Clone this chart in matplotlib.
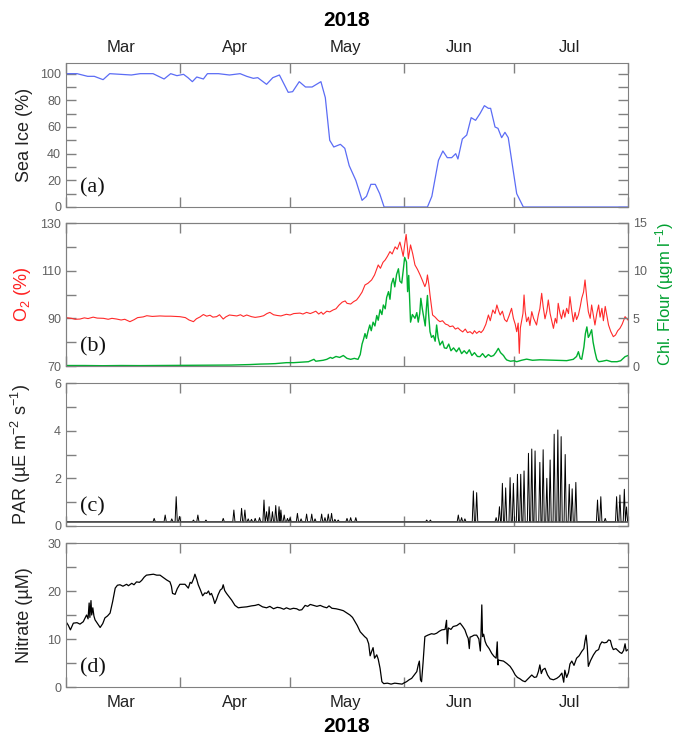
import numpy as np
import matplotlib
matplotlib.use("Agg")
import matplotlib.pyplot as plt
import matplotlib.dates as mdates
from matplotlib.ticker import MultipleLocator, FixedLocator

plt.rcParams["font.family"] = ["Liberation Sans", "DejaVu Sans"]
plt.rcParams["mathtext.fontset"] = "custom"
plt.rcParams["mathtext.rm"] = "Liberation Sans"
plt.rcParams["mathtext.default"] = "regular"

# =========================
# Data (days since 1 Mar 2018)
# =========================
ice_day = [0, 3.0, 5.9, 7.7, 10.1, 11.9, 17.8, 20.2, 23.7, 26.7, 28.5, 30.2, 32.0, 33.2,
           34.4, 35.6, 37.4, 38.5, 41.5, 44.5, 47.4, 49.2, 51.0, 52.2, 54.6, 56.3, 58.1,
           60.5, 61.7, 63.5, 65.2, 67.0, 69.4, 70.6, 71.8, 72.9, 74.7, 75.9, 77.1, 78.9,
           80.6, 81.8, 83.0, 84.2, 85.4, 86.6, 98.4, 99.6, 101.4, 102.6, 103.8, 105.0,
           106.1, 106.7, 107.9, 109.1, 110.3, 111.5, 112.7, 113.9, 115.0, 115.6, 116.8,
           117.6, 118.6, 119.5, 120.4, 121.6, 122.7, 124.5, 153]
ice_pct = [100, 100, 98, 98, 95.5, 100, 99, 100, 100, 96, 100, 98.5, 99.5, 97,
           94, 97.5, 96, 100, 100, 99, 100, 98, 96.5, 97, 92, 97, 99,
           86, 86.5, 94, 90, 90, 94, 82, 50, 45, 47, 44, 31, 20,
           5, 8, 17, 17, 10, 0, 0, 8, 35, 42, 37, 37,
           40, 36, 51, 54, 67, 65, 70, 76, 74, 74, 60,
           59, 52, 56, 52, 30, 10, 0, 0]

o2_day = [0, 1.5, 2.5, 3.8, 5, 6, 7.4, 8.5, 10.2, 11.5, 12.5, 13.8, 15, 16, 17.4, 18.5,
          19.5, 21, 22, 23.5, 25.6, 27, 28.5, 30, 31, 32.5, 33.5, 34.7, 35.5, 36.5, 37.4,
          38.3, 39.2, 40, 41, 41.8, 42.8, 43.5, 44.5, 45.5, 46.5, 47.5, 48.3, 49.2, 50.5,
          51.5, 52.8, 53.8, 54.7, 55.5, 56.5, 57.5, 58.5, 60, 61, 62, 63.7, 64.5, 65.5,
          66.5, 67.3, 68, 68.8, 69.5, 70, 71, 71.8, 72.7, 73.5, 74.3, 75.2, 76, 76.5,
          77.5, 78.3, 79.1, 79.8, 80.6, 81.4, 82.2, 83.2, 84.0, 85, 85.6, 86.3, 86.9,
          87.5, 88.2, 88.8, 89.6, 90.2, 90.9, 91.3, 91.8, 92.2, 92.6, 93.0, 93.2, 93.8,
          94.4, 95, 95.7, 96.4, 97, 97.7, 98.1, 98.4, 98.8, 99.1, 99.5, 99.8, 100.5,
          101.2, 101.8, 102.5, 103.3, 104, 104.5, 105.3, 106, 106.7, 107.3, 108, 108.7,
          109.3, 110, 110.7, 111.2, 111.8, 112.5, 113, 113.6, 114.3, 115, 115.5, 116.2,
          116.8, 117.3, 117.8, 118.2, 118.8, 119.4, 120, 120.6, 121.3, 121.8, 122.3,
          122.7, 123.1, 123.4, 123.7, 124, 124.4, 124.7, 125.0, 125.4, 125.9, 126.3,
          126.8, 127.3, 128.1, 128.6, 129.0, 129.5, 129.9, 130.4, 130.9, 131.3, 131.8,
          132.3, 132.7, 133.2, 133.6, 134, 134.5, 134.9, 135.4, 135.8, 136.3, 136.8,
          137.2, 137.7, 138.1, 138.6, 139, 139.5, 140, 140.4, 140.9, 141.3, 141.8, 142.2,
          142.7, 143.1, 143.6, 144, 144.5, 145, 145.4, 145.9, 146.3, 146.8, 147.2, 147.7,
          148.3, 149, 149.6, 150.2, 150.8, 151.4, 152.2, 153]
o2_pct = [90.3, 90.0, 89.6, 89.7, 90.2, 89.9, 90.5, 90.1, 90.0, 89.6, 90.0, 89.7, 89.3, 89.6, 88.6, 89.4,
          90.3, 90.6, 91.1, 90.8, 91.0, 90.9, 90.9, 90.8, 90.7, 90.3, 89.3, 88.6, 89.8, 90.6, 91.6,
          90.9, 91.3, 90.5, 90.7, 91.5, 89.7, 90.6, 91.4, 91.2, 91.0, 91.5, 90.8, 91.4, 90.7,
          90.4, 90.7, 91.1, 92.0, 92.5, 91.5, 91.2, 91.0, 91.7, 91.4, 92.0, 92.2, 91.8, 92.5,
          92.0, 92.5, 93.0, 91.8, 92.6, 91.7, 93.0, 92.7, 93.5, 94.0, 95.5, 96.8, 97.3, 96.3,
          96.0, 97.0, 97.7, 99.1, 101.0, 104.0, 104.7, 106.1, 108.2, 112.4, 111.0, 113.5, 114.5,
          116.0, 118.0, 117.0, 120.0, 119.0, 122.0, 119.5, 116.0, 121.0, 125.2, 119.0, 115.0, 120.8,
          117.0, 112.4, 110.5, 108.2, 106.0, 103.3, 105.0, 108.2, 104.0, 99.8, 95.0, 91.4, 90.5,
          89.3, 88.6, 89.0, 87.6, 87.2, 86.5, 86.8, 85.5, 86.0, 85.1, 84.3, 85.5,
          84.0, 84.4, 83.5, 84.8, 83.7, 84.6, 84.0, 85.1, 87.5, 91.4, 89.0, 93.5,
          92.0, 95.6, 93.0, 91.4, 93.0, 89.5, 88.6, 91.0, 94.2, 90.0, 87.5,
          84.4, 88.0, 75.3, 86.0, 88.6, 92.0, 99.8, 93.0, 88.6, 90.5, 87.0,
          92.8, 90.0, 87.2, 91.5, 94.0, 100.5, 95.0, 89.8, 93.0, 97.7, 92.0,
          88.5, 85.8, 90.0, 88.0, 96.3, 92.0, 89.8, 93.5, 90.5, 94.2, 92.0,
          99.1, 93.0, 88.6, 92.5, 89.5, 91.4, 95.0, 98.4, 101.0, 106.1, 98.0, 92.8,
          90.0, 95.6, 91.0, 87.2, 92.0, 95.6, 90.5, 94.2, 89.0, 95.0, 91.5, 87.2,
          84.5, 82.3, 83.0, 84.8, 85.8, 87.5, 90.7, 89.3]

chl_day = [0, 5, 10, 15, 20, 25, 30, 35, 40, 45, 50, 52.8, 55, 57, 60, 62, 64, 66, 67.5, 68,
           70, 71, 72, 72.5, 73.5, 74.5, 75.5, 76.5, 77.5, 78.5, 79.5, 80.1, 80.6, 81.0,
           81.4, 81.8, 82.2, 82.7, 83.1, 83.6, 84.1, 84.6, 85.0, 85.5, 86.0, 86.4, 86.9,
           87.3, 87.8, 88.2, 88.6, 89.1, 89.5, 90.0, 90.5, 90.9, 91.4, 91.8, 92.2, 92.7,
           93.0, 93.3, 93.8, 94.3, 95, 95.5, 95.9, 96.3, 96.6, 97.0, 97.3, 97.8, 98.1,
           98.4, 98.7, 99.1, 99.5, 100, 100.5, 100.9, 101.3, 101.8, 102.5, 103, 103.6,
           104.2, 104.8, 105.5, 106.3, 107, 107.7, 108.4, 109.1, 109.8, 110.5, 111.2, 112,
           112.7, 113.4, 114.2, 115, 115.7, 116.4, 117, 117.7, 118.3, 119.1, 119.6, 120,
           121, 122, 122.7, 124, 125.4, 127, 129, 130.9, 133, 135, 136.3, 138.1, 139,
           139.5, 140, 140.4, 141, 141.4, 141.8, 142.2, 142.5, 143.1, 143.5, 144, 144.5,
           145, 146, 147.2, 148.5, 150, 151, 152.2, 153]
chl_val = [0.05, 0.05, 0.03, 0.05, 0.04, 0.05, 0.05, 0.06, 0.08, 0.1, 0.15, 0.2, 0.22, 0.25, 0.35, 0.35, 0.4, 0.45, 0.7, 0.5,
           0.6, 0.7, 0.9, 0.8, 1.0, 0.9, 1.1, 0.8, 0.7, 0.8, 0.7, 1.2, 2.3, 2.8,
           3.4, 2.9, 3.6, 4.3, 3.7, 4.6, 4.2, 5.3, 4.8, 5.9, 5.4, 6.4, 6.0,
           7.2, 7.8, 7.0, 8.6, 9.2, 8.3, 9.6, 10.2, 8.9, 8.7, 10.0, 11.4, 10.9,
           7.8, 9.5, 4.6, 5.4, 5.0, 5.6, 4.6, 5.5, 7.1, 6.0, 5.3, 4.2, 6.0,
           7.4, 5.5, 3.6, 3.0, 3.2, 2.6, 4.3, 3.0, 2.2, 2.6, 1.9, 1.85,
           2.3, 1.6, 1.9, 1.5, 1.9, 1.3, 1.6, 1.3, 1.7, 1.1, 1.4, 1.0,
           0.98, 1.3, 0.9, 1.2, 1.0, 1.1, 1.4, 1.85, 1.4, 1.1, 0.8, 0.63,
           0.5, 0.55, 0.45, 0.6, 0.72, 0.6, 0.65, 0.63, 0.6, 0.58, 0.56, 0.7, 1.0,
           1.5, 0.8, 0.7, 2.0, 3.4, 4.1, 3.0, 3.2, 3.8, 2.5, 1.5, 0.7,
           0.45, 0.5, 0.6, 0.45, 0.45, 0.55, 0.98, 1.1]

par_base = 0.18
par_day = [24, 27, 28.8, 30, 30.9, 34.7, 35.9, 38.1, 42.8, 45.7, 47.8, 48.7, 49.6, 50.5,
           51.5, 52.7, 53.9, 54.6, 55.3, 56.2, 57.1, 58, 58.5, 59.4, 60.3, 61, 63, 64,
           65.5, 66.9, 67.8, 69.6, 70.5, 71.4, 72.3, 73.2, 74.1, 76.5, 77.5, 78.9, 98.2,
           99.2, 106.8, 107.7, 108.6, 110.9, 111.8, 117.1, 118, 118.8, 119.7, 120.9,
           121.8, 122.9, 123.8, 124.7, 125.9, 126.8, 127.7, 129, 129.9, 130.9, 131.8,
           132.9, 133.9, 134.8, 135.9, 137, 137.8, 138.8, 144.7, 145.6, 146.8, 149.9,
           150.8, 152, 152.6]
par_peak = [0.32, 0.46, 0.3, 1.23, 0.4, 0.25, 0.46, 0.25, 0.32, 0.67, 0.74, 0.67, 0.3, 0.28,
            0.32, 0.35, 1.09, 0.6, 0.81, 0.6, 0.86, 0.81, 0.67, 0.46, 0.32, 0.35, 0.53, 0.3,
            0.5, 0.5, 0.3, 0.5, 0.35, 0.5, 0.53, 0.28, 0.25, 0.32, 0.35, 0.35, 0.25,
            0.25, 0.46, 0.35, 0.3, 1.47, 1.4, 0.35, 0.81, 1.79, 1.6, 2.03,
            1.79, 2.17, 2.17, 2.31, 3.05, 3.23, 3.15, 2.67, 3.2, 2.0, 2.77,
            3.85, 4.03, 3.75, 3.0, 1.75, 1.56, 1.83, 1.09, 1.23, 0.32, 1.23,
            1.3, 1.54, 0.8]

no3_day = [0, 0.6, 1.2, 2, 3, 3.8, 4.7, 5.6, 6.0, 6.3, 6.5, 6.8, 7.0, 7.3, 7.6, 7.9, 8.6,
           9.3, 10, 10.6, 11.3, 12, 12.7, 13.4, 14, 14.7, 15.5, 16.5, 17, 17.9, 18.5, 19.2,
           20, 20.6, 21.3, 21.9, 22.8, 23.8, 24.7, 25.6, 26.5, 27.4, 28.3, 28.7, 29, 29.7,
           30.3, 31, 32.4, 33.3, 33.8, 34.2, 34.7, 35.1, 35.6, 36, 36.6, 37.2, 37.8, 38.3,
           38.8, 39.2, 39.6, 40.1, 40.5, 41, 41.4, 42, 42.5, 42.8, 43.2, 43.7, 44.4, 45.1,
           46, 46.9, 47.8, 49.2, 50.5, 51.5, 52.4, 53.5, 54.6, 55.5, 56.5, 57.5, 58.3, 59.3,
           60, 61, 61.9, 62.8, 63.5, 64.2, 65.1, 65.8, 66.5, 67.4, 68.3, 69.2, 70.1, 71,
           71.6, 72.4, 73.5, 74.6, 75.5, 76.3, 77.3, 78, 78.7, 79.3, 80.1, 80.7, 81.3, 81.9,
           82.4, 82.8, 83.2, 83.6, 84, 84.6, 85, 85.5, 86, 86.5, 87.5, 88.5, 89.5, 90.5,
           91.5, 91.9, 92.7, 93.4, 94.1, 94.8, 95.5, 95.9, 96.2, 96.5, 96.8, 97.2, 97.7,
           98.5, 99.5, 100.2, 100.9, 101.6, 102.3, 103.2, 103.6, 103.8, 104.1, 104.8, 105.4,
           106.4, 107.3, 108, 108.6, 109.1, 109.5, 109.8, 110.0, 110.4, 111.1, 111.8, 112.4,
           112.8, 113.0, 113.2, 113.4, 113.7, 114.1, 114.5, 115.2, 115.9, 116.5, 117.1,
           117.4, 117.6, 117.7, 118.4, 119.1, 120, 120.9, 121.6, 122.3, 122.9, 123.6, 124.3,
           125, 125.9, 126.8, 127.5, 128.1, 128.6, 129, 129.4, 129.8, 130.4, 131.1, 131.8,
           132.7, 133.6, 134.3, 135, 135.5, 135.8, 136.3, 136.8, 137.2, 137.7, 138.3, 139,
           139.7, 140.4, 141, 141.3, 141.6, 141.9, 142.2, 142.8, 143.6, 144.3, 145, 145.4,
           145.9, 146.5, 147.2, 147.7, 148.2, 148.6, 149, 149.7, 150.4, 150.8, 151.3, 151.8,
           152.2, 152.5, 153]
no3_val = [13.6, 12.9, 11.9, 13.3, 13.4, 13.1, 13.6, 15.0, 14.2, 17.5, 14.5, 18.0, 15.0, 16.5, 14.8, 14.0, 13.2,
           12.4, 13.2, 14.4, 14.8, 15.4, 17.8, 20.6, 21.2, 21.3, 21.0, 21.4, 21.1, 21.6, 21.3, 21.9,
           21.8, 22.2, 22.9, 23.3, 23.4, 23.5, 23.3, 23.3, 22.8, 22.3, 21.9, 21.0, 19.5, 19.3,
           20.5, 21.4, 21.4, 20.6, 21.8, 21.6, 22.5, 23.5, 22.4, 21.3, 20.2, 19.0, 19.6, 19.5,
           20.0, 19.2, 19.5, 18.5, 17.4, 18.3, 19.2, 20.2, 20.5, 21.3, 20.1, 19.5, 18.8, 18.1,
           17.0, 16.5, 16.6, 16.7, 16.9, 17.0, 17.2, 16.7, 16.5, 16.8, 16.3, 16.6, 16.5, 16.2,
           16.5, 16.2, 16.4, 16.3, 16.0, 16.1, 17.0, 16.8, 17.2, 17.0, 16.8, 17.0, 16.7, 16.5,
           16.9, 16.4, 16.3, 16.1, 15.9, 15.5, 15.0, 14.5, 13.6, 12.8, 11.5, 11.0, 10.5, 10.1,
           9.0, 6.5, 7.4, 8.2, 6.0, 6.7, 5.8, 3.9, 1.1, 0.7, 0.8, 0.6, 0.8, 0.7,
           0.6, 0.8, 1.1, 1.5, 1.8, 2.5, 3.2, 4.6, 5.4, 1.5, 1.1, 5.0, 10.5,
           10.8, 11.1, 11.0, 11.2, 11.6, 11.9, 12.0, 13.9, 9.0, 12.3, 12.0, 12.6,
           12.8, 13.3, 12.6, 11.9, 10.8, 10.1, 8.0, 10.4, 10.5, 10.8, 10.8, 10.0,
           7.5, 11.5, 17.1, 10.5, 11.0, 9.5, 8.75, 8.0, 7.0, 6.4, 6.0,
           9.4, 4.6, 5.6, 5.5, 5.4, 4.9, 4.3, 3.5, 2.5, 2.0, 1.7, 1.3,
           1.1, 1.8, 2.5, 2.0, 2.1, 3.2, 4.6, 2.8, 3.6, 3.9, 2.5, 1.7,
           1.5, 1.8, 2.2, 2.9, 1.0, 3.5, 2.0, 3.0, 4.8, 5.4, 4.5, 6.0,
           6.5, 7.4, 8.0, 9.6, 10.8, 8.5, 4.3, 5.5, 6.7, 7.5, 7.8, 8.8,
           9.4, 9.2, 9.3, 9.8, 9.7, 8.5, 7.8, 8.0, 7.5, 7.2, 7.0, 7.6,
           9.0, 7.5, 7.8]

start = np.datetime64("2018-03-01")
end = np.datetime64("2018-08-01")


def to_dates(days):
    return start + (np.array(days) * 86400).astype("timedelta64[s]")


# PAR: one narrow triangle per daily peak on top of the dark baseline
par_x = [0]
par_y = [par_base]
for d, p in zip(par_day, par_peak):
    par_x += [d - 0.3, d, d + 0.3]
    par_y += [par_base, p, par_base]
par_x.append(153)
par_y.append(par_base)

# =========================
# Figure
# =========================
fig = plt.figure(figsize=(6.83, 7.40), dpi=100)
left, width = 66 / 683, 562 / 683
rows = [(63, 207), (223, 366), (383, 526), (543, 687)]
axes = [fig.add_axes([left, 1 - b / 740, width, (b - t) / 740]) for t, b in rows]

gray = "#808080"
for ax in axes:
    ax.set_xlim(start, end)
    ax.xaxis.set_major_locator(mdates.MonthLocator())
    ax.xaxis.set_minor_locator(mdates.MonthLocator(bymonthday=16))
    ax.xaxis.set_major_formatter(plt.NullFormatter())
    ax.xaxis.set_minor_formatter(mdates.DateFormatter("%b"))
    ax.tick_params(which="both", direction="in", top=True, right=True, length=7,
                   width=1, color=gray, labelcolor="#606060", labelsize=9)
    ax.tick_params(axis="x", which="minor", length=0, labelbottom=False,
                   labelcolor="#222222", labelsize=12, pad=6)
    for s in ax.spines.values():
        s.set_color(gray)
    ax.yaxis.set_label_coords(-0.058, 0.5)

axes[0].tick_params(axis="x", which="minor", labeltop=True)
axes[3].tick_params(axis="x", which="minor", labelbottom=True)

# (a) sea ice
ax = axes[0]
ax.plot(to_dates(ice_day), ice_pct, color="#5b6cf5", lw=0.9)
ax.set_ylim(0, 108)
ax.yaxis.set_major_locator(MultipleLocator(20))
ax.yaxis.set_minor_locator(MultipleLocator(10))
ax.set_ylabel("Sea Ice (%)", fontsize=13, color="#222222")

# (b) oxygen and chlorophyll
ax = axes[1]
ax.plot(to_dates(o2_day), o2_pct, color="#ff2a2a", lw=0.8)
ax.set_ylim(70, 130)
ax.yaxis.set_major_locator(FixedLocator([70, 90, 110, 130]))
ax.yaxis.set_minor_locator(FixedLocator([80, 100, 120]))
ax.tick_params(axis="y", which="both", right=False)
ax.set_ylabel("O$_2$ (%)", fontsize=13, color="#ff2020")
ax2 = ax.twinx()
ax2.plot(to_dates(chl_day), chl_val, color="#00b030", lw=1.0)
ax2.set_ylim(0, 15)
ax2.set_xlim(start, end)
ax2.yaxis.set_major_locator(MultipleLocator(5))
ax2.yaxis.set_minor_locator(MultipleLocator(2.5))
ax2.tick_params(axis="y", which="both", direction="in", length=7, width=1,
                color=gray, labelcolor="#606060", labelsize=9)
for s in ax2.spines.values():
    s.set_color(gray)
ax2.set_ylabel("Chl. Flour (µgm l$^{-1}$)", fontsize=12, color="#00a030")
ax2.yaxis.set_label_coords(1.045, 0.5)

# (c) PAR
ax = axes[2]
ax.plot(to_dates(par_x), par_y, color="black", lw=0.7)
ax.axhline(par_base, color="#555555", lw=1.2)
ax.set_ylim(0, 6)
ax.yaxis.set_major_locator(MultipleLocator(2))
ax.yaxis.set_minor_locator(MultipleLocator(1))
ax.set_ylabel("PAR (µE m$^{-2}$ s$^{-1}$)", fontsize=13, color="#222222")

# (d) nitrate
ax = axes[3]
ax.plot(to_dates(no3_day), no3_val, color="black", lw=0.9)
ax.set_ylim(0, 30)
ax.yaxis.set_major_locator(MultipleLocator(10))
ax.yaxis.set_minor_locator(MultipleLocator(5))
ax.set_ylabel("Nitrate (µM)", fontsize=13, color="#222222")

for ax, tag in zip(axes, ["(a)", "(b)", "(c)", "(d)"]):
    ax.text(0.025, 0.1, tag, transform=ax.transAxes, fontsize=16,
            family="Liberation Serif", color="#111111")

fig.text(0.5 * (left * 2 + width), 1 - 20 / 740, "2018", ha="center", va="center",
         fontsize=15, fontweight="bold")
fig.text(0.5 * (left * 2 + width), 1 - 727 / 740, "2018", ha="center", va="center",
         fontsize=15, fontweight="bold")

fig.savefig("out.png", dpi=100)
